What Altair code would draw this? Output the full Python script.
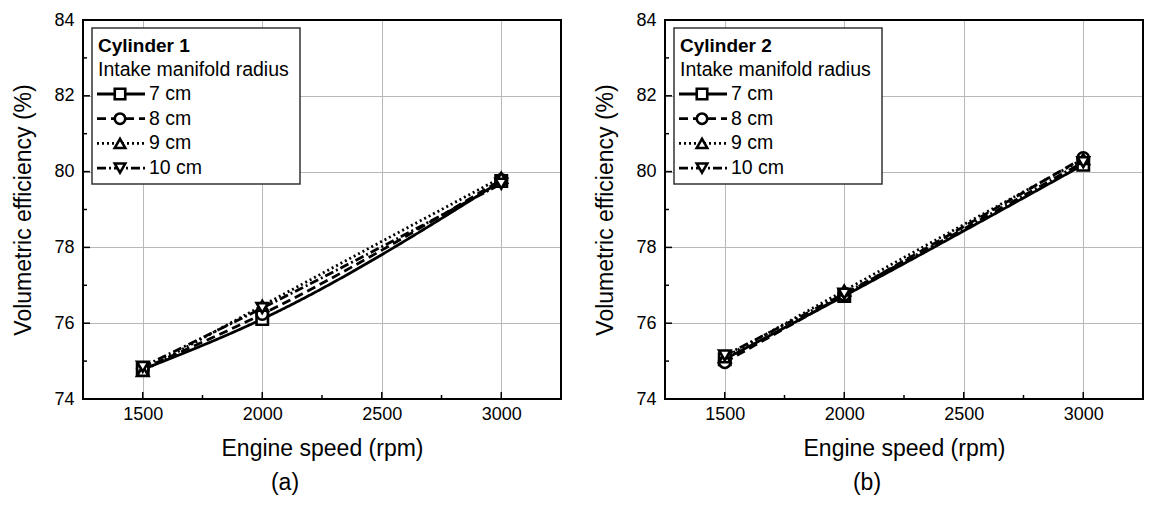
import altair as alt
import pandas as pd

rpm = [1500, 2000, 3000]
radii = ["7 cm", "8 cm", "9 cm", "10 cm"]
cyl1 = {
    "7 cm": [74.78, 76.11, 79.75],
    "8 cm": [74.80, 76.24, 79.78],
    "9 cm": [74.74, 76.46, 79.84],
    "10 cm": [74.85, 76.40, 79.68],
}
cyl2 = {
    "7 cm": [75.05, 76.72, 80.18],
    "8 cm": [74.97, 76.75, 80.36],
    "9 cm": [75.10, 76.86, 80.33],
    "10 cm": [75.15, 76.78, 80.25],
}
x_major = [1500, 2000, 2500, 3000]
x_minor = [1750, 2250, 2750]
y_major = [74, 76, 78, 80, 82, 84]
y_minor = [75, 77, 79, 81, 83]

FONT = "Liberation Sans"
W, H = 478, 379
shapes = ["square", "circle", "triangle-up", "triangle-down"]
dashes = [[1, 0], [9, 5], [2, 3], [9, 3, 2, 3]]

xs = alt.Scale(domain=[1250, 3250], nice=False, zero=False)
ys = alt.Scale(domain=[74, 84], nice=False, zero=False)


def panel(data, cyl_title, caption):
    rows = []
    for r in radii:
        for x, v in zip(rpm, data[r]):
            rows.append({"rpm": x, "eff": v, "radius": r})
    df = pd.DataFrame(rows)
    base = alt.Chart(df)
    xenc = alt.X("rpm:Q", scale=xs, title="Engine speed (rpm)",
                 axis=alt.Axis(values=x_major, format="d", ticks=False, domain=False, grid=True,
                               labelFontSize=18, titleFontSize=23, labelPadding=6,
                               titlePadding=14, labelFont=FONT, titleFont=FONT,
                               labelColor="black", titleColor="black", titleFontWeight="normal",
                               gridColor="#b8b8b8", gridWidth=1))
    yenc = alt.Y("eff:Q", scale=ys, title="Volumetric efficiency (%)",
                 axis=alt.Axis(values=y_major, format="d", ticks=False, domain=False, grid=True,
                               labelFontSize=18, titleFontSize=23, labelPadding=9,
                               titlePadding=18, labelFont=FONT, titleFont=FONT,
                               labelColor="black", titleColor="black", titleFontWeight="normal",
                               gridColor="#b8b8b8", gridWidth=1))
    lines = base.mark_line(color="black", strokeWidth=2.8, interpolate="monotone").encode(
        x=xenc, y=yenc,
        strokeDash=alt.StrokeDash("radius:N", scale=alt.Scale(domain=radii, range=dashes), legend=None),
        detail="radius:N",
    )
    pts = base.mark_point(filled=True, fill="white", stroke="black", strokeWidth=2.6, size=130, opacity=1).encode(
        x="rpm:Q", y="eff:Q",
        shape=alt.Shape("radius:N", scale=alt.Scale(domain=radii, range=shapes), legend=None),
    )
    one = alt.Chart(pd.DataFrame({"a": [0]}))
    frame = one.mark_rect(fill=None, stroke="black", strokeWidth=2).encode(
        x=alt.value(0), x2=alt.value(W), y=alt.value(0), y2=alt.value(H))
    # inside ticks
    xt_major = alt.Chart(pd.DataFrame({"v": x_major})).mark_rule(color="black", strokeWidth=1.5).encode(
        x=alt.X("v:Q", scale=xs), y=alt.value(H - 7), y2=alt.value(H))
    xt_minor = alt.Chart(pd.DataFrame({"v": x_minor})).mark_rule(color="black", strokeWidth=1.5).encode(
        x=alt.X("v:Q", scale=xs), y=alt.value(H - 4), y2=alt.value(H))
    yt_major = alt.Chart(pd.DataFrame({"v": y_major})).mark_rule(color="black", strokeWidth=1.5).encode(
        y=alt.Y("v:Q", scale=ys), x=alt.value(0), x2=alt.value(7))
    yt_minor = alt.Chart(pd.DataFrame({"v": y_minor})).mark_rule(color="black", strokeWidth=1.5).encode(
        y=alt.Y("v:Q", scale=ys), x=alt.value(0), x2=alt.value(4))

    layers = [lines, pts, frame, xt_major, xt_minor, yt_major, yt_minor]

    # legend
    layers.append(one.mark_rect(fill="white", stroke="#333333", strokeWidth=1.5).encode(
        x=alt.value(9), x2=alt.value(217), y=alt.value(8), y2=alt.value(164)))
    layers.append(one.mark_text(text=cyl_title, font=FONT, fontSize=19, fontWeight="bold",
                                align="left", baseline="middle", color="black").encode(
        x=alt.value(15), y=alt.value(26)))
    layers.append(one.mark_text(text="Intake manifold radius", font=FONT, fontSize=19.5,
                                align="left", baseline="middle", color="black").encode(
        x=alt.value(15), y=alt.value(50)))
    for i, r in enumerate(radii):
        yy = 74 + i * 24.7
        layers.append(one.mark_rule(color="black", strokeWidth=2.8, strokeDash=dashes[i]).encode(
            x=alt.value(14), x2=alt.value(62), y=alt.value(yy)))
        layers.append(one.mark_point(shape=shapes[i], filled=True, fill="white", stroke="black",
                                     strokeWidth=2.6, size=110, opacity=1).encode(
            x=alt.value(37), y=alt.value(yy)))
        layers.append(one.mark_text(text=r, font=FONT, fontSize=19.5, align="left",
                                    baseline="middle", color="black").encode(
            x=alt.value(66), y=alt.value(yy)))

    return alt.layer(*layers).properties(
        width=W, height=H,
        title=alt.TitleParams(caption, orient="bottom", anchor="middle", fontSize=23, font=FONT,
                              fontWeight="normal", color="black", dx=-37, offset=12),
    )


left = panel(cyl1, "Cylinder 1", "(a)")
right = panel(cyl2, "Cylinder 2", "(b)")

chart = alt.hconcat(left, right, spacing=104, bounds="flush").properties(
    padding={"left": 12, "top": 10, "right": 5, "bottom": 5},
).configure_view(stroke=None).configure(background="white")

chart.save("out.html", embed_options={"renderer": "svg", "actions": False})
